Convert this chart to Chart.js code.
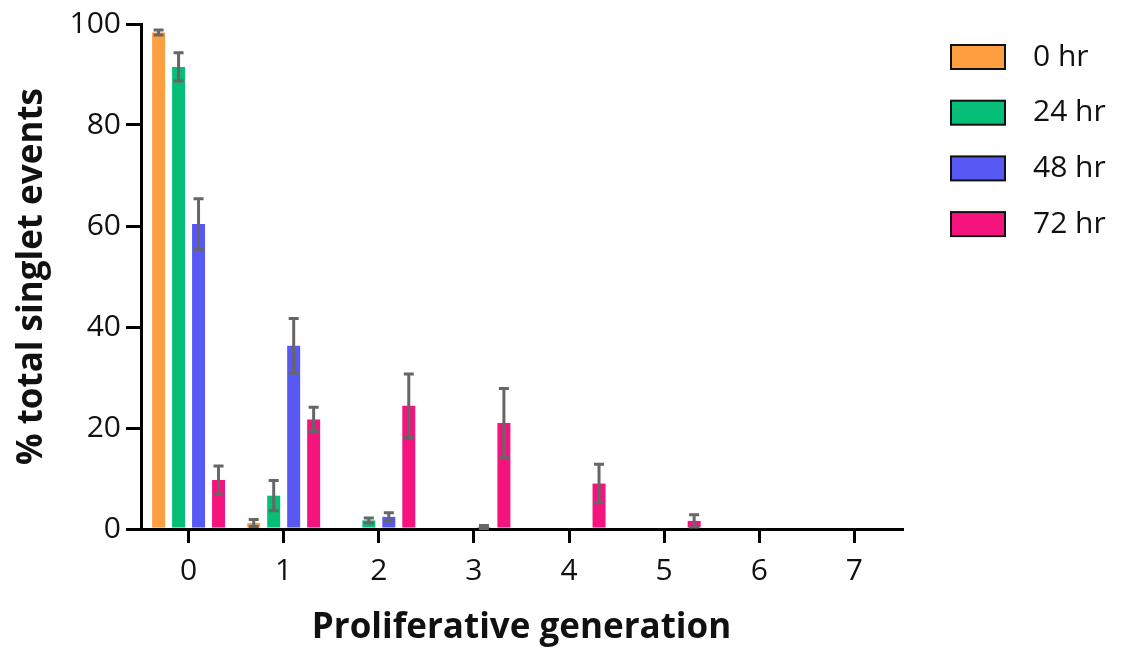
<!DOCTYPE html>
<html>
<head>
<meta charset="utf-8">
<script src="https://cdn.jsdelivr.net/npm/chart.js@4/dist/chart.umd.min.js"></script>
<style>
  body { margin: 0; background: #fff; }
  #wrap { width: 1122px; height: 650px; }
</style>
</head>
<body>
<div id="wrap"><canvas id="myChart" width="1122" height="650"></canvas></div>
<script>
// data
let generations = ["0", "1", "2", "3", "4", "5", "6", "7"];
let seriesNames = ["0 hr", "24 hr", "48 hr", "72 hr"];
let seriesColors = ["#FD9E40", "#05BE78", "#5858F5", "#F5147E"];

let hr0 = [98.3, 1.2, 0, 0, 0, 0, 0, 0];
let hr24 = [91.5, 6.6, 1.7, 0, 0, 0, 0, 0];
let hr48 = [60.4, 36.3, 2.4, 0.4, 0, 0, 0, 0];
let hr72 = [9.7, 21.7, 24.4, 21.0, 9.0, 1.6, 0, 0];

let hr0Err = [0.5, 0.7, 0, 0, 0, 0, 0, 0];
let hr24Err = [2.8, 3.0, 0.5, 0, 0, 0, 0, 0];
let hr48Err = [5.0, 5.4, 0.8, 0.3, 0, 0, 0, 0];
let hr72Err = [2.8, 2.4, 6.3, 6.8, 3.8, 1.2, 0, 0];

let yTicks = [0, 20, 40, 60, 80, 100];

let allValues = [hr0, hr24, hr48, hr72];
let allErrors = [hr0Err, hr24Err, hr48Err, hr72Err];

//TODO: error bars drawn with the y scale
const errorBars = {
  id: "errorBars",
  afterDatasetsDraw(chart) {
    const ctx = chart.ctx;
    const y = chart.scales.y;
    chart.data.datasets.forEach((ds, i) => {
      const meta = chart.getDatasetMeta(i);
      meta.data.forEach((bar, j) => {
        const e = ds.errors[j];
        if (!e) return;
        const v = ds.data[j];
        const top = y.getPixelForValue(v + e);
        const bot = y.getPixelForValue(Math.max(0, v - e));
        ctx.save();
        ctx.strokeStyle = "#666666";
        ctx.lineWidth = 3;
        ctx.beginPath();
        ctx.moveTo(bar.x, top);
        ctx.lineTo(bar.x, bot);
        ctx.moveTo(bar.x - 5, top);
        ctx.lineTo(bar.x + 5, top);
        ctx.moveTo(bar.x - 5, bot);
        ctx.lineTo(bar.x + 5, bot);
        ctx.stroke();
        ctx.restore();
      });
    });
  },
};

//TODO: legend on the right with boxed swatches
const sideLegend = {
  id: "sideLegend",
  afterDraw(chart) {
    const ctx = chart.ctx;
    ctx.save();
    chart.data.datasets.forEach((ds, i) => {
      let top = 45 + i * 55.7;
      ctx.fillStyle = ds.backgroundColor;
      ctx.fillRect(951, top, 54, 24);
      ctx.strokeStyle = "#111";
      ctx.lineWidth = 2;
      ctx.strokeRect(951, top, 54, 24);
      ctx.fillStyle = "#111";
      ctx.font = "30px 'Open Sans'";
      ctx.textBaseline = "middle";
      ctx.fillText(ds.label, 1033, top + 12);
    });
    ctx.restore();
  },
};

let canvas = document.getElementById("myChart").getContext("2d");
let myChart = new Chart(canvas, {
  type: "bar",
  data: {
    labels: generations,
    datasets: seriesNames.map((name, i) => ({
      label: name,
      data: allValues[i],
      errors: allErrors[i],
      backgroundColor: seriesColors[i],
      borderWidth: 0,
      barPercentage: 0.65,
      categoryPercentage: 0.84,
    })),
  },
  options: {
    responsive: false,
    animation: false,
    layout: { padding: { top: 24, right: 220, bottom: 0, left: 0 } },
    plugins: {
      legend: { display: false },
      tooltip: { enabled: false },
    },
    scales: {
      x: {
        afterFit: (scale) => {
          scale.height = 121;
        },
        border: { display: true, color: "#000", width: 3 },
        grid: {
          offset: false,
          drawOnChartArea: false,
          color: "#000",
          lineWidth: 3,
          tickLength: 14,
        },
        ticks: {
          color: "#111",
          font: { family: "'Open Sans'", size: 30 },
          padding: 10,
          maxRotation: 0,
        },
        title: {
          display: true,
          text: "Proliferative generation",
          color: "#111",
          font: { family: "'Open Sans'", size: 35, weight: "bold" },
          padding: { top: 0, bottom: 1 },
        },
      },
      y: {
        min: 0,
        max: 100,
        afterFit: (scale) => {
          scale.width = 141;
        },
        afterBuildTicks: (scale) => {
          scale.ticks = yTicks.map((v) => ({ value: v }));
        },
        border: { display: true, color: "#000", width: 3 },
        grid: {
          drawOnChartArea: false,
          color: "#000",
          lineWidth: 3,
          tickLength: 15,
        },
        ticks: {
          color: "#111",
          font: { family: "'Open Sans'", size: 30 },
          padding: 5,
        },
        title: {
          display: true,
          text: "% total singlet events",
          color: "#111",
          font: { family: "'Open Sans'", size: 35, weight: "bold" },
          padding: { top: 11, bottom: 0 },
        },
      },
    },
  },
  plugins: [errorBars, sideLegend],
});
</script>
</body>
</html>
